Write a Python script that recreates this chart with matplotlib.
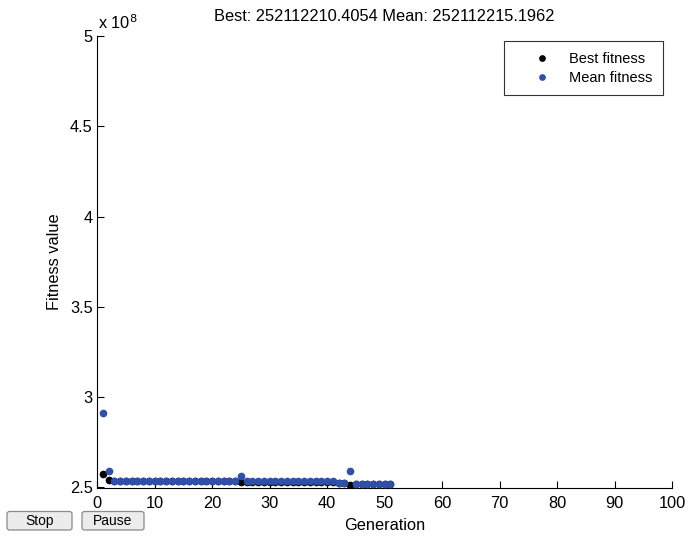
import matplotlib
matplotlib.use("Agg")
import matplotlib.pyplot as plt
from matplotlib.patches import FancyBboxPatch

plt.rcParams['font.family'] = ['Liberation Sans', 'DejaVu Sans']

generations = list(range(1, 52))
best_fitness = ([2.572, 2.544] + [2.536] * 22 + [2.532] + [2.532] * 16
                + [2.524, 2.524, 2.514] + [2.521] * 7)
mean_fitness = ([2.910, 2.594] + [2.537] * 22 + [2.561] + [2.537] * 16
                + [2.525, 2.525, 2.589] + [2.522] * 7)
scale = 1e8
best_vals = [v * scale for v in best_fitness]
mean_vals = [v * scale for v in mean_fitness]

title = "Best: 252112210.4054 Mean: 252112215.1962"
x_ticks = list(range(0, 101, 10))
y_ticks = [2.5, 3, 3.5, 4, 4.5, 5]

FS = 11.8

fig = plt.figure(figsize=(6.89, 5.38), dpi=100)
ax = fig.add_axes([97 / 689, 1 - 487.5 / 538, (672 - 97) / 689, (487.5 - 36) / 538])

ax.plot(generations, best_vals, 'o', color='black', markersize=4.5, label='Best fitness', zorder=2)
ax.plot(generations, mean_vals, 'o', color='#2f4fa8', markersize=4.5, label='Mean fitness', zorder=3)

ax.set_xlim(0, 100)
ax.set_ylim(2.5 * scale, 5 * scale)
ax.set_xticks(x_ticks)
ax.set_xticklabels([str(t) for t in x_ticks])
ax.set_yticks([t * scale for t in y_ticks])
ax.set_yticklabels([f"{t:g}" for t in y_ticks])
ax.tick_params(direction='in', length=5, labelsize=FS, width=0.8)
ax.tick_params(axis='x', pad=6)
ax.tick_params(axis='y', pad=3)
ax.spines['top'].set_visible(False)
ax.spines['right'].set_visible(False)
for s in ('left', 'bottom'):
    ax.spines[s].set_linewidth(0.8)

ax.set_xlabel('Generation', fontsize=FS, labelpad=5)
ax.set_ylabel('Fitness value', fontsize=FS, labelpad=6)
ax.set_title(title, fontsize=FS, pad=11)

fig.text(98 / 689, 1 - 22.5 / 538, r'x 10$^{8}$', fontsize=FS, ha='left', va='center',
         math_fontfamily='dejavusans')

leg = ax.legend(loc='upper right', bbox_to_anchor=(663 / 689, 1 - 41.5 / 538),
                bbox_transform=fig.transFigure, fontsize=10.5, frameon=True,
                fancybox=False, edgecolor='black', markerscale=0.85,
                handletextpad=-0.1, borderpad=0.7, labelspacing=0.37, handlelength=3.9,
                borderaxespad=0)
leg.get_frame().set_linewidth(0.8)

# Buttons
for (x0, w, label) in [(7, 65, 'Stop'), (82, 62, 'Pause')]:
    box = FancyBboxPatch((x0 / 689, 1 - 530 / 538), w / 689, 18.5 / 538,
                         boxstyle='round,pad=0,rounding_size=0.004',
                         transform=fig.transFigure, facecolor='#ececec',
                         edgecolor='#8a8a8a', linewidth=0.9)
    fig.patches.append(box)
    fig.text((x0 + w / 2) / 689, 1 - 525 / 538, label, fontsize=10,
             ha='center', va='baseline')

fig.savefig('out.png', dpi=100)
